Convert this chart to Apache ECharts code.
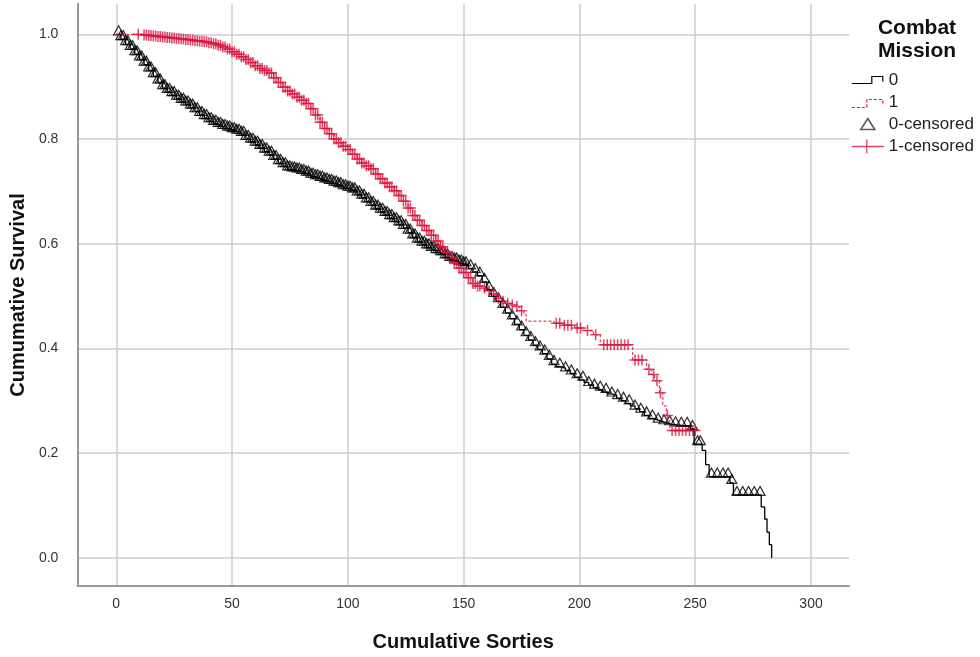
<!DOCTYPE html>
<html>
<head>
<meta charset="utf-8">
<script src="https://cdn.jsdelivr.net/npm/echarts@6/dist/echarts.min.js"></script>
<style>html,body{margin:0;background:#fff}#chart{width:980px;height:657px}</style>
</head>
<body>
<div id="chart"></div>
<script>
// step curve, group 0 (not combat)
const sorties0 = [0, 2, 4, 6, 8, 10, 12, 14, 16, 18, 20, 22, 24, 26, 28, 30, 32, 34, 36, 38, 40, 42, 44, 46, 48, 50,
  52, 54, 56, 58, 60, 62, 64, 66, 68, 70, 72, 74, 76, 78, 80, 82, 84, 86, 88, 90, 92, 94, 96, 98, 100,
  102, 104, 106, 108, 110, 112, 114, 116, 118, 120, 122, 124, 126, 128, 130, 132, 134, 136, 138, 140, 142, 144, 146, 148, 150,
  152, 154, 156, 158, 160, 162, 164, 166, 168, 170, 172, 174, 176, 178, 180, 182, 184, 186, 188, 190, 192, 194, 196, 198, 200,
  202, 204, 206, 208, 210, 212, 214, 216, 218, 220, 222, 224, 226, 228, 230, 232, 234, 236, 238, 240,
  244, 248, 249.5, 253, 254.5, 256, 265, 266.5, 278.5, 280, 281, 282, 283];
const survival0 = [1.000, 0.991, 0.981, 0.972, 0.962, 0.952, 0.942, 0.931, 0.920, 0.908, 0.897, 0.890, 0.884, 0.877, 0.871, 0.866, 0.860, 0.853, 0.846, 0.840, 0.834, 0.829, 0.825, 0.821, 0.818, 0.815,
  0.812, 0.808, 0.800, 0.795, 0.789, 0.783, 0.776, 0.770, 0.762, 0.754, 0.748, 0.742, 0.740, 0.738, 0.735, 0.732, 0.728, 0.725, 0.722, 0.719, 0.716, 0.713, 0.710, 0.706, 0.703,
  0.700, 0.694, 0.688, 0.681, 0.674, 0.667, 0.661, 0.655, 0.649, 0.643, 0.637, 0.630, 0.621, 0.612, 0.604, 0.598, 0.593, 0.588, 0.584, 0.580, 0.574, 0.569, 0.566, 0.562, 0.559,
  0.553, 0.546, 0.539, 0.527, 0.512, 0.500, 0.490, 0.479, 0.468, 0.457, 0.446, 0.436, 0.425, 0.416, 0.406, 0.398, 0.390, 0.380, 0.370, 0.365, 0.362, 0.358, 0.352, 0.345, 0.340,
  0.335, 0.330, 0.325, 0.321, 0.317, 0.313, 0.310, 0.305, 0.300, 0.295, 0.290, 0.285, 0.279, 0.272, 0.266, 0.263, 0.260, 0.257, 0.255, 0.253,
  0.252, 0.246, 0.217, 0.205, 0.178, 0.155, 0.143, 0.120, 0.097, 0.074, 0.049, 0.025, 0.000];
const censored0 = [1, 2, 3, 4, 5, 6, 7, 8, 9, 10, 11, 12, 13, 14, 15, 16, 17, 18, 19, 20, 21, 22, 23, 24, 25,
  26, 27, 28, 29, 30, 31, 32, 33, 34, 35, 36, 37, 38, 39, 40, 41, 42, 43, 44, 45, 46, 47, 48, 49, 50,
  51, 52, 53, 54, 55, 56, 57, 58, 59, 60, 61, 62, 63, 64, 65, 66, 67, 68, 69, 70, 71, 72, 73, 74, 75,
  76, 77, 78, 79, 80, 81, 82, 83, 84, 85, 86, 87, 88, 89, 90, 91, 92, 93, 94, 95, 96, 97, 98, 99, 100,
  101, 102, 103, 104, 105, 106, 107, 108, 109, 110, 111, 112, 113, 114, 115, 116, 117, 118, 119, 120,
  121, 122, 123, 124, 125, 126, 127, 128, 129, 130, 131, 132, 133, 134, 135, 136, 137, 138, 139, 140,
  141, 142, 143, 144, 145, 146, 147, 148, 149, 150, 151, 153, 155, 157, 159, 161, 163, 165, 167, 169,
  171, 173, 175, 177, 179, 181, 183, 185, 187, 189,
  191.5, 194, 196.5, 199, 201.5, 204, 206.5, 209, 211.5, 214, 216.5, 219, 221.5, 224, 226.5, 229, 231.5, 234, 236.5, 239,
  241.5, 244, 246.5, 248.8, 251, 252.2, 257, 259.5, 262, 264.2, 265.8, 268, 270.5, 273, 275.5, 278];

// step curve, group 1 (combat)
const sorties1 = [0, 10, 12, 14, 16, 18, 20, 22, 24, 26, 28, 30, 32, 34, 36, 38, 40, 42, 44, 46, 48, 50,
  52, 54, 56, 58, 60, 62, 64, 66, 68, 70, 72, 74, 76, 78, 80, 82, 84, 86, 88, 90, 92, 94, 96, 98, 100,
  102, 104, 106, 108, 110, 112, 114, 116, 118, 120, 122, 124, 126, 128, 130, 132, 134, 136, 138, 140, 142, 144, 146, 148, 150,
  152, 154, 156, 158, 160, 162, 164, 166, 168, 170, 172, 174, 176,
  177, 189, 193, 198, 202, 206, 209, 223, 229, 231, 232.5, 234.5, 236, 237.5, 239, 250];
const survival1 = [1.000, 1.000, 0.999, 0.998, 0.997, 0.996, 0.995, 0.994, 0.993, 0.992, 0.991, 0.990, 0.989, 0.988, 0.987, 0.986, 0.984, 0.982, 0.979, 0.976, 0.972, 0.967,
  0.962, 0.957, 0.952, 0.946, 0.940, 0.935, 0.931, 0.926, 0.917, 0.908, 0.899, 0.892, 0.886, 0.880, 0.874, 0.868, 0.858, 0.846, 0.832, 0.820, 0.810, 0.800, 0.793, 0.786, 0.780,
  0.771, 0.762, 0.754, 0.749, 0.743, 0.733, 0.724, 0.716, 0.709, 0.701, 0.692, 0.681, 0.668, 0.654, 0.645, 0.635, 0.625, 0.616, 0.605, 0.594, 0.583, 0.573, 0.563, 0.553, 0.545,
  0.535, 0.524, 0.519, 0.515, 0.510, 0.504, 0.496, 0.490, 0.486, 0.483, 0.480, 0.472, 0.464,
  0.452, 0.448, 0.444, 0.439, 0.434, 0.426, 0.407, 0.378, 0.360, 0.350, 0.338, 0.315, 0.290, 0.272, 0.243, 0.243];
const censored1 = [9.5, 12, 13, 14, 15, 16, 17, 18, 19, 20, 21, 22, 23, 24, 25,
  26, 27, 28, 29, 30, 31, 32, 33, 34, 35, 36, 37, 38, 39, 40, 41, 42, 43, 44, 45, 46, 47, 48, 49, 50,
  51, 52, 53, 54, 55, 56, 57, 58, 59, 60, 61, 62, 63, 64, 65, 66, 67, 68, 69, 70, 71, 72, 73, 74, 75,
  76, 77, 78, 79, 80, 81, 82, 83, 84, 85, 86, 87, 88, 89, 90, 91, 92, 93, 94, 95, 96, 97, 98, 99, 100,
  101, 102, 103, 104, 105, 106, 107, 108, 109, 110, 111, 112, 113, 114, 115, 116, 117, 118, 119, 120,
  121, 122, 123, 124, 125, 126, 127, 128, 129, 130, 131, 132, 133, 134, 135, 136, 137, 138, 139, 140,
  141, 142, 143, 144, 145, 146, 147, 148, 149, 150, 151, 152, 153, 154, 155, 156, 157, 159, 161, 163,
  165, 167, 169, 171, 173, 175,
  190, 191.5, 193.5, 195, 196.5, 199, 200.5, 203.5, 207, 210.5, 212, 213.5, 215, 216.5, 218, 219.5, 221,
  224, 225.5, 227, 230, 232, 233.5, 235, 238, 240, 241.5, 243, 244.5, 246, 247.5, 249, 250];

const xTicks = [0, 50, 100, 150, 200, 250, 300];
const yTicks = [0, 0.2, 0.4, 0.6, 0.8, 1.0];

const FONT = "'Liberation Sans', Arial, sans-serif";
const RED = '#d8163f';

// survival level of a step curve at time t
function survAt(times, surv, t) {
  let v = surv[0];
  for (let i = 0; i < times.length; i++) {
    if (times[i] <= t) v = surv[i];
  }
  return v;
}

const curve0 = sorties0.map((t, i) => [t, survival0[i]]);
const curve1 = sorties1.map((t, i) => [t, survival1[i]]);
const marks0 = censored0.map(t => [t, survAt(sorties0, survival0, t)]);
const marks1 = censored1.map(t => [t, survAt(sorties1, survival1, t)]);

const chart = echarts.init(document.getElementById('chart'));
const option = {
  animation: false,
  backgroundColor: '#fff',
  title: {
    text: 'Combat\nMission',
    left: 912,
    top: 12,
    textAlign: 'center',
    textStyle: { fontFamily: FONT, fontSize: 21, fontWeight: 'bold', color: '#111', lineHeight: 23 }
  },
  legend: {
    orient: 'vertical',
    left: 851,
    top: 72,
    padding: 0,
    itemWidth: 32,
    itemHeight: 14,
    itemGap: 5,
    selectedMode: false,
    textStyle: { fontFamily: FONT, fontSize: 17, color: '#222' },
    data: [
      { name: '0', icon: 'path://M0,0M32,14M0,10L20,10L20,3L31,3L31,8',
        itemStyle: { color: 'rgba(0,0,0,0)', borderColor: '#000', borderWidth: 1.2 } },
      { name: '1', icon: 'path://M0,0M32,14M0,12L15,12L15,4L31,4L31,10',
        itemStyle: { color: 'rgba(0,0,0,0)', borderColor: RED, borderWidth: 1.2, borderType: [3, 2] } },
      { name: '0-censored', icon: 'path://M0,0M32,14M9,12L16,1L23,12Z',
        itemStyle: { color: 'rgba(0,0,0,0)', borderColor: '#333', borderWidth: 1.6 } },
      { name: '1-censored', icon: 'path://M0,0M32,14M0,7L32,7M15,0L15,14',
        itemStyle: { color: 'rgba(0,0,0,0)', borderColor: RED, borderWidth: 1.3 } }
    ]
  },
  grid: { left: 77, right: 131, top: 4, bottom: 68 },
  xAxis: {
    type: 'value',
    min: -16.8,
    max: 316.4,
    name: 'Cumulative Sorties',
    nameLocation: 'middle',
    nameGap: 46,
    nameTextStyle: { fontFamily: FONT, fontSize: 20, fontWeight: 'bold', color: '#111' },
    axisLine: { onZero: false, lineStyle: { color: '#999', width: 2 } },
    axisTick: { show: false, customValues: xTicks },
    axisLabel: { customValues: xTicks, margin: 11, fontFamily: FONT, fontSize: 14, color: '#333' },
    splitLine: { show: true, lineStyle: { color: '#cccccc', width: 1.5 } }
  },
  yAxis: {
    type: 'value',
    min: -0.054,
    max: 1.058,
    name: 'Cumumative Survival',
    nameLocation: 'middle',
    nameGap: 48,
    nameTextStyle: { fontFamily: FONT, fontSize: 20, fontWeight: 'bold', color: '#111' },
    axisLine: { show: true, onZero: false, lineStyle: { color: '#999', width: 2 } },
    axisTick: { show: false, customValues: yTicks },
    axisLabel: { customValues: yTicks, margin: 19, fontFamily: FONT, fontSize: 14, color: '#333',
      formatter: v => v.toFixed(1) },
    splitLine: { show: true, lineStyle: { color: '#cccccc', width: 1.5 } }
  },
  series: [
    {
      name: '0',
      type: 'line',
      step: 'end',
      data: curve0,
      symbol: 'none',
      lineStyle: { color: '#000', width: 1.3 },
      itemStyle: { color: '#000' }
    },
    {
      name: '0-censored',
      type: 'scatter',
      data: marks0,
      symbol: 'triangle',
      symbolSize: [10, 9],
      symbolOffset: [0, -4],
      itemStyle: { color: 'rgba(0,0,0,0)', borderColor: '#000', borderWidth: 1.2 }
    },
    {
      name: '1',
      type: 'line',
      step: 'end',
      data: curve1,
      symbol: 'none',
      lineStyle: { color: RED, width: 1, type: [3, 2] },
      itemStyle: { color: RED }
    },
    {
      name: '1-censored',
      type: 'scatter',
      data: marks1,
      symbol: 'path://M0,5L10,5M5,0L5,10',
      symbolSize: 11,
      itemStyle: { color: 'rgba(0,0,0,0)', borderColor: RED, borderWidth: 1.5 }
    }
  ]
};
chart.setOption(option);
</script>
</body>
</html>
